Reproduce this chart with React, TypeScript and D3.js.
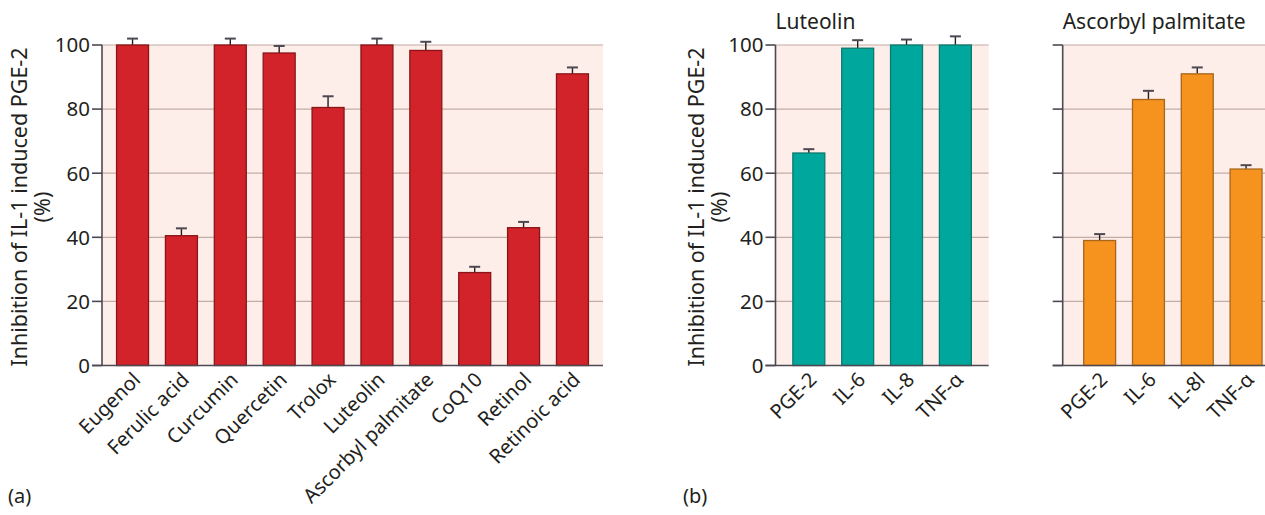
import React from 'react';
import * as d3 from 'd3';

// panel (a)
const compounds = ['Eugenol', 'Ferulic acid', 'Curcumin', 'Quercetin', 'Trolox', 'Luteolin', 'Ascorbyl palmitate', 'CoQ10', 'Retinol', 'Retinoic acid'];
const compoundValues = [100, 40.5, 100, 97.5, 80.5, 100, 98.3, 29, 43, 91];
const compoundErrors = [2, 2.3, 2, 2.2, 3.5, 2, 2.7, 1.8, 1.8, 2];

// panel (b)
const mediators = ['PGE-2', 'IL-6', 'IL-8', 'TNF-α'];
const mediatorsAP = ['PGE-2', 'IL-6', 'IL-8l', 'TNF-α'];
const luteolinValues = [66.3, 99, 100, 100];
const luteolinErrors = [1.2, 2.5, 1.7, 2.7];
const ascorbylValues = [39, 83, 91, 61.3];
const ascorbylErrors = [2, 2.7, 2, 1.2];

const yTicks = [0, 20, 40, 60, 80, 100];

const FONT = '"Noto Sans", "Open Sans", sans-serif';
const BG = '#fdeeea';
const GRID = '#c4aca6';
const AXIS = '#4d4852';
const TEXT = '#231f20';

const y = d3.scaleLinear().domain([0, 100]).range([365.5, 45]);

type PanelProps = {
  x0: number;
  x1: number;
  padOuter: number;
  cats: string[];
  values: number[];
  errors: number[];
  fill: string;
  stroke: string;
  showTickLabels: boolean;
  title?: string;
};

const Panel = ({ x0, x1, padOuter, cats, values, errors, fill, stroke, showTickLabels, title }: PanelProps) => {
  const x = d3.scaleBand<string>().domain(cats).range([x0, x1]).paddingInner(0.346).paddingOuter(padOuter);
  const bw = x.bandwidth();
  return (
    <g>
      <rect x={x0} y={y(100)} width={x1 - x0} height={y(0) - y(100)} fill={BG} />
      {yTicks.filter(t => t > 0).map(t => (
        <line key={t} x1={x0} x2={x1} y1={y(t)} y2={y(t)} stroke={GRID} strokeWidth={1.2} />
      ))}
      {cats.map((c, i) => {
        const cx = (x(c) as number) + bw / 2;
        return (
          <g key={c}>
            <line x1={cx} x2={cx} y1={y(values[i])} y2={y(values[i] + errors[i])} stroke={TEXT} strokeWidth={1.4} />
            <line x1={cx - 5.5} x2={cx + 5.5} y1={y(values[i] + errors[i])} y2={y(values[i] + errors[i])} stroke={AXIS} strokeWidth={2} />
            <rect x={x(c)} y={y(values[i])} width={bw} height={y(0) - y(values[i])} fill={fill} stroke={stroke} strokeWidth={1.3} />
          </g>
        );
      })}
      <line x1={x0} x2={x0} y1={y(100)} y2={y(0)} stroke={AXIS} strokeWidth={1.6} />
      <line x1={x0 - 10} x2={x1} y1={y(0)} y2={y(0)} stroke={AXIS} strokeWidth={1.6} />
      {yTicks.map(t => (
        <line key={t} x1={x0 - 10} x2={x0} y1={y(t)} y2={y(t)} stroke={AXIS} strokeWidth={1.6} />
      ))}
      {showTickLabels && yTicks.map(t => (
        <text key={t} x={x0 - 12} y={y(t)} dy="0.36em" textAnchor="end" fontSize={20.5} fill={TEXT}>{t}</text>
      ))}
      {cats.map(c => {
        const cx = (x(c) as number) + bw / 2 + 9;
        const cy = 381;
        return (
          <text key={c} transform={`translate(${cx},${cy}) rotate(-45)`} textAnchor="end" fontSize={20} fill={TEXT}>{c}</text>
        );
      })}
      {title && (
        <text x={x0} y={29} fontSize={21} fill={TEXT}>{title}</text>
      )}
    </g>
  );
};

const YLabel = ({ x }: { x: number }) => (
  <g transform={`translate(${x},207) rotate(-90)`}>
    <text x={0} y={0} textAnchor="middle" fontSize={21.5} fill={TEXT}>Inhibition of IL-1 induced PGE-2</text>
    <text x={0} y={23} textAnchor="middle" fontSize={21.5} fill={TEXT}>(%)</text>
  </g>
);

export default function App() {
  return (
    <svg width={1265} height={515} style={{ display: 'block', position: 'absolute', left: 0, top: 0, background: '#fff' }} fontFamily={FONT}>
      <YLabel x={27} />
      <Panel x0={102} x1={603} padOuter={0.298} cats={compounds} values={compoundValues} errors={compoundErrors}
        fill="#d2232a" stroke="#8a1519" showTickLabels />
      <YLabel x={704} />
      <Panel x0={775.5} x1={988.7} padOuter={0.355} cats={mediators} values={luteolinValues} errors={luteolinErrors}
        fill="#00a79d" stroke="#0d7a6f" showTickLabels title="Luteolin" />
      <Panel x0={1062.7} x1={1283} padOuter={0.43} cats={mediatorsAP} values={ascorbylValues} errors={ascorbylErrors}
        fill="#f6921e" stroke="#a9651c" showTickLabels={false} title="Ascorbyl palmitate" />
      <text x={8} y={503} fontSize={20} fill={TEXT}>(a)</text>
      <text x={683} y={503} fontSize={20} fill={TEXT}>(b)</text>
    </svg>
  );
}
